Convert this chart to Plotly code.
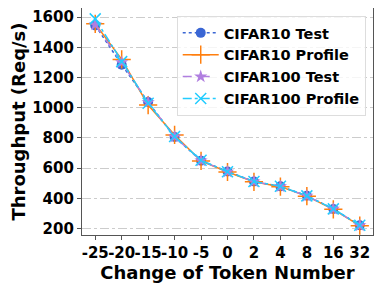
import plotly.graph_objects as go

categories = ["-25", "-20", "-15", "-10", "-5", "0", "2", "4", "8", "16", "32"]
cifar10_test = [1545, 1285, 1038, 806, 650, 578, 512, 480, 418, 330, 222]
cifar10_profile = [1555, 1320, 1018, 820, 648, 575, 510, 478, 415, 328, 220]
cifar100_test = [1550, 1300, 1035, 808, 650, 576, 511, 479, 416, 330, 221]
cifar100_profile = [1588, 1305, 1030, 810, 652, 577, 512, 480, 417, 331, 222]

font_family = "DejaVu Sans"

fig = go.Figure()
fig.add_trace(go.Scatter(x=categories, y=cifar10_test, name="CIFAR10 Test", mode="lines+markers",
                         line=dict(color="#3a66d4", dash="dot", width=1.5),
                         marker=dict(symbol="circle", size=10, color="#3a66d4")))
fig.add_trace(go.Scatter(x=categories, y=cifar10_profile, name="CIFAR10 Profile", mode="lines+markers",
                         line=dict(color="#ff7f0e", width=1.5),
                         marker=dict(symbol="cross-thin", size=13, line=dict(color="#ff7f0e", width=1.5))))
fig.add_trace(go.Scatter(x=categories, y=cifar100_test, name="CIFAR100 Test", mode="lines+markers",
                         line=dict(color="#b07fe0", dash="dash", width=1.5),
                         marker=dict(symbol="star", size=10, color="#b07fe0")))
fig.add_trace(go.Scatter(x=categories, y=cifar100_profile, name="CIFAR100 Profile", mode="lines+markers",
                         line=dict(color="#22ccff", dash="dashdot", width=1.5),
                         marker=dict(symbol="x-thin", size=11, line=dict(color="#22ccff", width=1.5))))

# page body has an 8px margin, so the figure is sized/offset to compensate
fig.update_layout(
    width=374, height=279,
    margin=dict(l=74, r=9, t=0, b=52),
    paper_bgcolor="white", plot_bgcolor="white",
    font=dict(family=font_family, color="black"),
    legend=dict(x=0.975, y=0.965, xanchor="right", yanchor="top",
                bgcolor="rgba(255,255,255,0.8)", bordercolor="#dddddd", borderwidth=1,
                font=dict(size=14.5, family=font_family, weight="bold"),
                tracegroupgap=0, itemwidth=36),
    showlegend=True,
)
fig.update_xaxes(
    type="category", range=[-0.5, 10.5], automargin=False, tickangle=0,
    showline=True, linecolor="#555555", linewidth=1.2, mirror=True,
    ticks="outside", ticklen=4, tickcolor="#555555",
    tickfont=dict(size=15, weight="bold"),
    showgrid=False,
    title=dict(text="Change of Token Number", font=dict(size=18, weight="bold"), standoff=1),
)
fig.update_yaxes(
    range=[158, 1660], tickvals=[200, 400, 600, 800, 1000, 1200, 1400, 1600], automargin=False,
    showline=True, linecolor="#555555", linewidth=1.2, mirror=True,
    ticks="outside", ticklen=4, tickcolor="#555555",
    tickfont=dict(size=15, weight="bold"),
    showgrid=True, gridcolor="#cccccc", griddash="dashdot", gridwidth=1,
    zeroline=False,
    title=dict(text="Throughput (Req/s)", font=dict(size=18, weight="bold"), standoff=5),
)
fig.write_html("out.html")
